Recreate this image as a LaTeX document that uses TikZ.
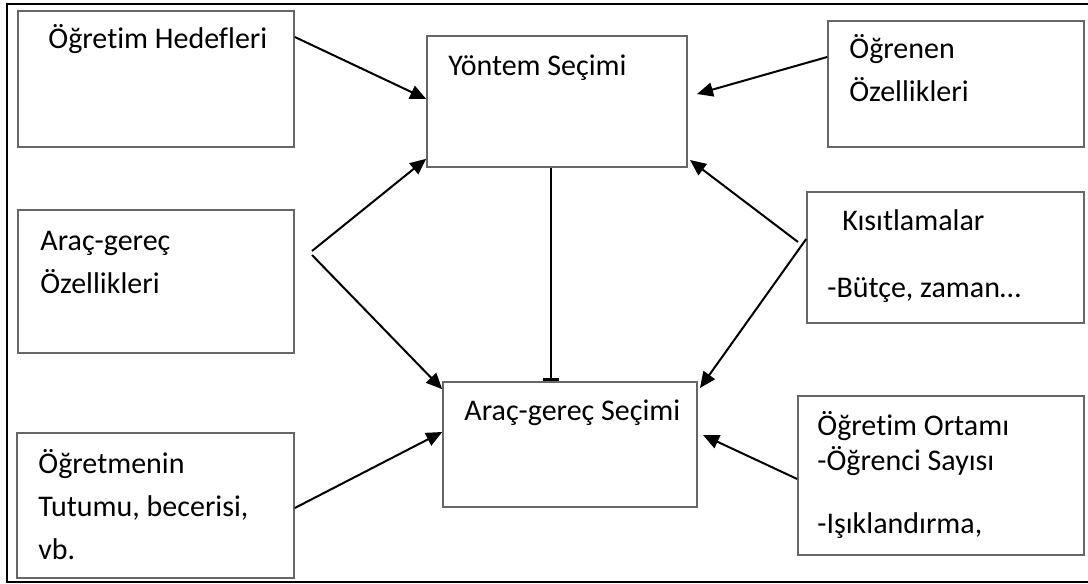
\documentclass[tikz,border=0pt]{standalone}
\usepackage{fontspec}
\setmainfont{Carlito}[Ligatures=NoCommon]
\usetikzlibrary{arrows.meta}

\begin{document}
\begin{tikzpicture}[
    x=0.5pt, y=-0.5pt,
    box/.style={draw=black!60, line width=0.8pt, inner sep=0pt},
    txt/.style={anchor=base west, inner sep=0pt, align=left, font=\fontsize{15}{21.5}\selectfont},
    arrow/.style={-{Triangle[length=8pt, width=7pt]}, line width=1pt},
    stop/.style={-{Bar[width=8pt, line width=1.5pt]}, line width=1pt}
]
\useasboundingbox (0,0) rectangle (1088,584);

% outer frame
\draw[line width=0.8pt] (1090,4) -| (7,582) -- (1090,582);

% boxes
\node[box, minimum width=138pt, minimum height=68pt] (hedef) at (156,79) {};
\node[box, minimum width=130pt, minimum height=65.5pt] (yontem) at (557,101.5) {};
\node[box, minimum width=128pt, minimum height=63pt] (ogrenen) at (956,84) {};
\node[box, minimum width=138pt, minimum height=71.5pt] (aracoz) at (156,281.5) {};
\node[box, minimum width=138.5pt, minimum height=65.5pt] (kisit) at (945.5,257.5) {};
\node[box, minimum width=127pt, minimum height=62.5pt] (aracsec) at (570,444.5) {};
\node[box, minimum width=143pt, minimum height=79.5pt] (ortam) at (941,475.5) {};
\node[box, minimum width=138.5pt, minimum height=72.5pt] (ogretmen) at (155.5,505.5) {};

% texts (base = last line)
\node[txt] (hedefT) at (48,48) {Öğretim Hedefleri};
\node[txt] (yontemT) at (448,75) {Yöntem Seçimi};
\node[txt] (ogrenenT) at (849,101) {Öğrenen\\Özellikleri};
\node[txt] (aracozT) at (40,293) {Araç-gereç\\Özellikleri};
\node[txt] (kisitT) at (842,230) {Kısıtlamalar};
\node[txt] (kisitU) at (827,297) {-Bütçe, zaman…};
\node[txt] (aracsecT) at (464,420) {Araç-gereç Seçimi};
\node[txt] (ortamT) at (817,533) {Öğretim Ortamı\\[-4pt]-Öğrenci Sayısı\\[10pt]-Işıklandırma,};
\node[txt] (ogretmenT) at (38,559) {Öğretmenin\\Tutumu, becerisi,\\vb.};

% free ends
\coordinate (ogrenenTip) at (697,94);
\coordinate (aracozA) at (312,251);
\coordinate (aracozB) at (312,255);
\coordinate (kisitA) at (798,242);
\coordinate (kisitTipA) at (690,160);
\coordinate (kisitTipB) at (700,388);
\coordinate (ortamTip) at (703,435);
\coordinate (stem) at ([xshift=-3pt]yontem.south);

% connectors
\draw[arrow] ([yshift=21pt]hedef.east) -- ([yshift=1.25pt]yontem.west);
\draw[arrow] ([yshift=13.5pt]ogrenen.west) -- (ogrenenTip);
\draw[arrow] (aracozA) -- ([yshift=4.5pt]yontem.south west);
\draw[arrow] (aracozB) -- ([yshift=-4pt]aracsec.north west);
\draw[arrow] (kisitA) -- (kisitTipA);
\draw[arrow] ([yshift=9.25pt]kisit.west) -- (kisitTipB);
\draw[arrow] ([yshift=-1.25pt]ogretmen.east) -- ([yshift=6.25pt]aracsec.west);
\draw[arrow] ([yshift=-1.75pt]ortam.west) -- (ortamTip);
\draw[stop] (stem) -- (stem |- aracsec.north);
\end{tikzpicture}
\end{document}
